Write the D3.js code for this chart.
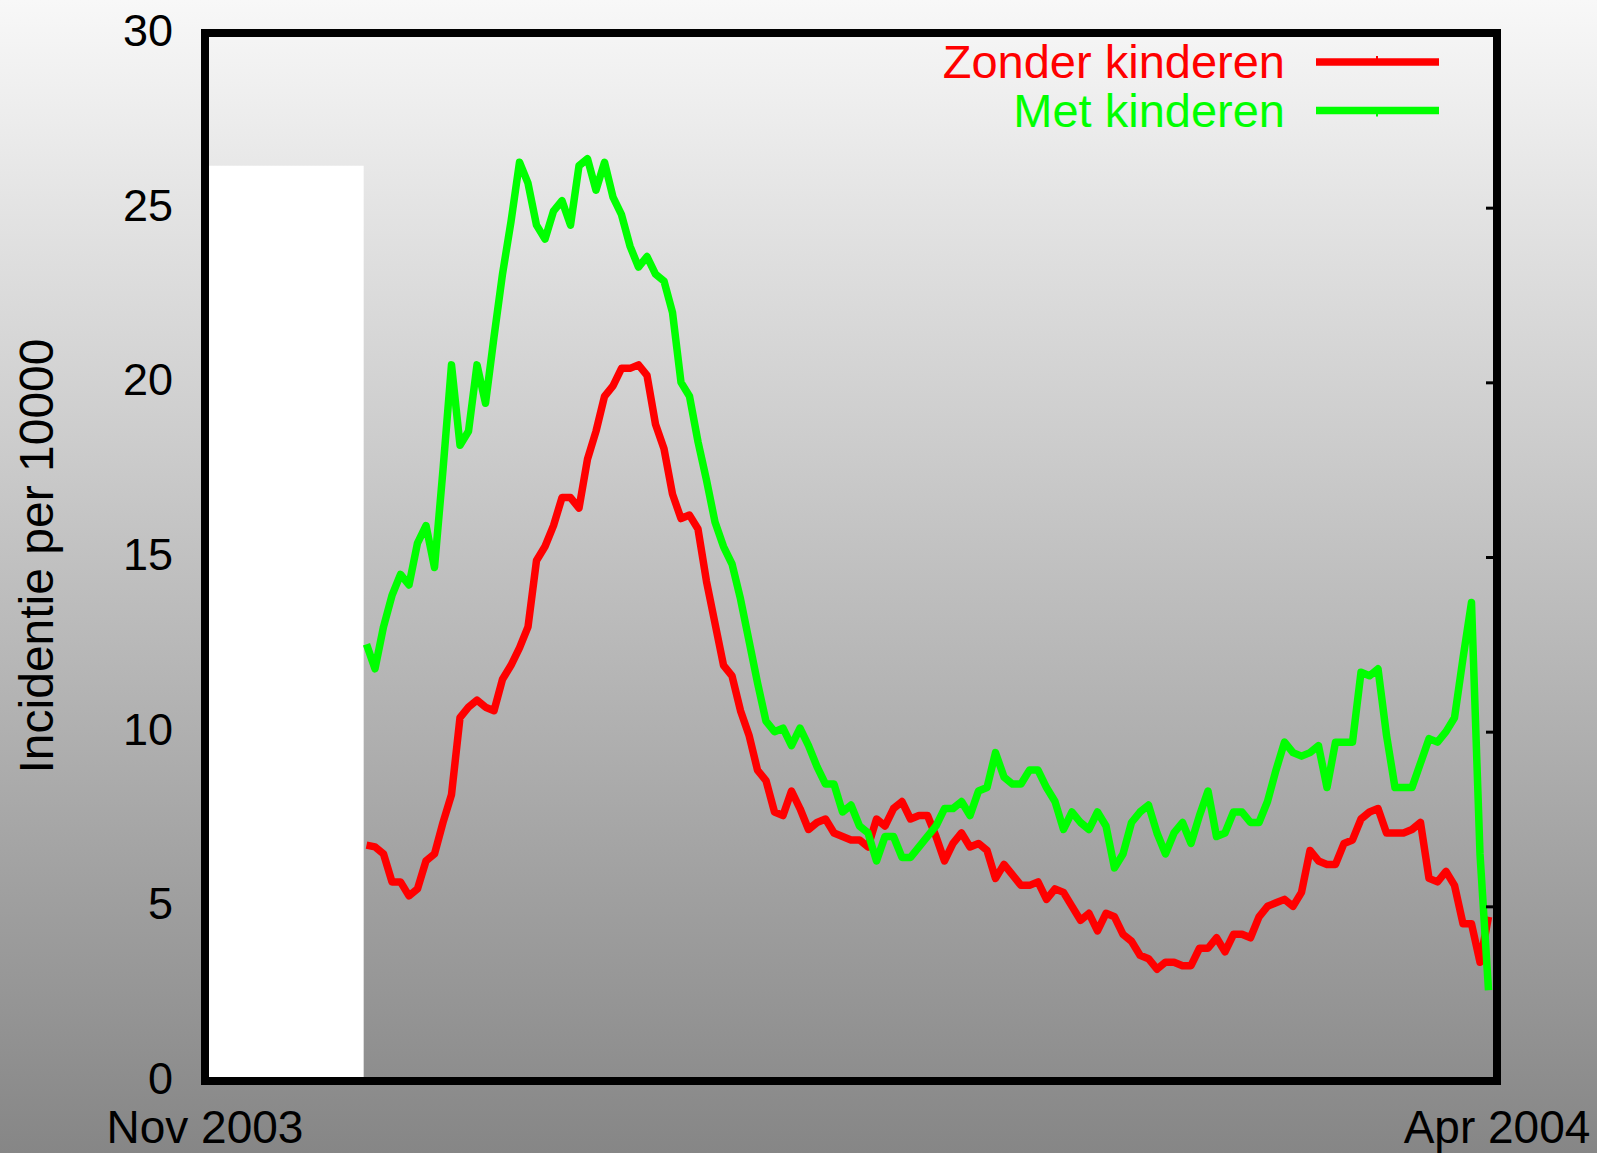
<!DOCTYPE html>
<html>
<head>
<meta charset="utf-8">
<script src="https://cdn.jsdelivr.net/npm/d3@7"></script>
<style>
  html, body { margin: 0; padding: 0; overflow: hidden; background: #888; }
  svg { display: block; }
  text { font-family: "Liberation Sans", Arial, Helvetica, sans-serif; }
</style>
</head>
<body>
<svg id="chart" width="1597" height="1153"></svg>
<script>
// Daily incidence per 10000, starting on firstDay
const firstDay = "2003-11-20";

const zonderKinderen = [
  6.75, 6.7, 6.5, 5.7, 5.7, 5.3, 5.5, 6.3, 6.5, 7.4,
  8.2, 10.4, 10.7, 10.9, 10.7, 10.6, 11.5, 11.9, 12.4, 13.0,
  14.9, 15.3, 15.9, 16.7, 16.7, 16.4, 17.8, 18.6, 19.6, 19.9,
  20.4, 20.4, 20.5, 20.2, 18.8, 18.1, 16.8, 16.1, 16.2, 15.8,
  14.3, 13.1, 11.9, 11.6, 10.6, 9.9, 8.9, 8.6, 7.7, 7.6,
  8.3, 7.8, 7.2, 7.4, 7.5, 7.1, 7.0, 6.9, 6.9, 6.7,
  7.5, 7.3, 7.8, 8.0, 7.5, 7.6, 7.6, 7.0, 6.3, 6.8,
  7.1, 6.7, 6.8, 6.6, 5.8, 6.2, 5.9, 5.6, 5.6, 5.7,
  5.2, 5.5, 5.4, 5.0, 4.6, 4.8, 4.3, 4.8, 4.7, 4.2,
  4.0, 3.6, 3.5, 3.2, 3.4, 3.4, 3.3, 3.3, 3.8, 3.8,
  4.1, 3.7, 4.2, 4.2, 4.1, 4.7, 5.0, 5.1, 5.2, 5.0,
  5.4, 6.6, 6.3, 6.2, 6.2, 6.8, 6.9, 7.5, 7.7, 7.8,
  7.1, 7.1, 7.1, 7.2, 7.4, 5.8, 5.7, 6.0, 5.6, 4.5,
  4.5, 3.4, 4.7
];

const metKinderen = [
  12.5, 11.8, 13.0, 13.9, 14.5, 14.2, 15.4, 15.9, 14.7, 17.5,
  20.5, 18.2, 18.6, 20.5, 19.4, 21.3, 23.1, 24.6, 26.3, 25.7,
  24.5, 24.1, 24.9, 25.2, 24.5, 26.2, 26.4, 25.5, 26.3, 25.3,
  24.8, 23.9, 23.3, 23.6, 23.1, 22.9, 22.0, 20.0, 19.6, 18.3,
  17.2, 16.0, 15.3, 14.8, 13.8, 12.6, 11.4, 10.3, 10.0, 10.1,
  9.6, 10.1, 9.6, 9.0, 8.5, 8.5, 7.7, 7.9, 7.3, 7.1,
  6.3, 7.0, 7.0, 6.4, 6.4, 6.7, 7.0, 7.3, 7.8, 7.8,
  8.0, 7.6, 8.3, 8.4, 9.4, 8.7, 8.5, 8.5, 8.9, 8.9,
  8.4, 8.0, 7.2, 7.7, 7.4, 7.2, 7.7, 7.3, 6.1, 6.5,
  7.4, 7.7, 7.9, 7.1, 6.5, 7.1, 7.4, 6.8, 7.6, 8.3,
  7.0, 7.1, 7.7, 7.7, 7.4, 7.4, 8.0, 8.9, 9.7, 9.4,
  9.3, 9.4, 9.6, 8.4, 9.7, 9.7, 9.7, 11.7, 11.6, 11.8,
  9.9, 8.4, 8.4, 8.4, 9.1, 9.8, 9.7, 10.0, 10.4, 12.1,
  13.7, 6.5, 2.6
];

const seriesNames = ["Zonder kinderen", "Met kinderen"];
const seriesColors = ["#ff0000", "#00ff00"];
const yTicks = [0, 5, 10, 15, 20, 25, 30];
const xTickDates = ["2003-11-01", "2004-04-01"];
const xTickLabels = ["Nov 2003", "Apr 2004"];
const yTitle = "Incidentie per 10000";

// Period without data, shown as a blank panel
const blankUntil = "2003-11-19T16:00";
const blankTop = 26.2;

const W = 1597, H = 1153;
const plot = { left: 205, right: 1497, top: 33, bottom: 1081 };

const parseDay = d3.utcParse("%Y-%m-%d");
const parseHour = d3.utcParse("%Y-%m-%dT%H:%M");
const start = parseDay(firstDay);

const x = d3.scaleUtc()
  .domain([parseDay(xTickDates[0]), parseDay(xTickDates[1])])
  .range([plot.left, plot.right]);
const y = d3.scaleLinear().domain([0, 30]).range([plot.bottom, plot.top]);

const svg = d3.select("#chart");
const defs = svg.append("defs");

const grad = defs.append("linearGradient")
  .attr("id", "bg").attr("gradientUnits", "userSpaceOnUse")
  .attr("x1", 0).attr("y1", 0).attr("x2", 0).attr("y2", H);
grad.append("stop").attr("offset", 0).attr("stop-color", "#f8f8f8");
grad.append("stop").attr("offset", 1).attr("stop-color", "#868686");

defs.append("clipPath").attr("id", "plotClip")
  .append("rect")
  .attr("x", plot.left + 4).attr("y", plot.top + 4)
  .attr("width", plot.right - plot.left - 8)
  .attr("height", plot.bottom - plot.top - 8);

svg.append("rect").attr("width", W).attr("height", H).attr("fill", "url(#bg)");

// Blank panel
svg.append("rect")
  .attr("x", plot.left + 2)
  .attr("y", y(blankTop))
  .attr("width", x(parseHour(blankUntil)) - plot.left - 2)
  .attr("height", plot.bottom - 4 - y(blankTop))
  .attr("fill", "#ffffff");

// Series
const series = [zonderKinderen, metKinderen].map((vals, i) => ({
  name: seriesNames[i],
  color: seriesColors[i],
  points: vals.map((v, j) => ({ date: d3.utcDay.offset(start, j), v }))
}));

const line = d3.line().x(d => x(d.date)).y(d => y(d.v));

svg.append("g").attr("clip-path", "url(#plotClip)")
  .selectAll("path").data(series).join("path")
  .attr("d", d => line(d.points))
  .attr("fill", "none")
  .attr("stroke", d => d.color)
  .attr("stroke-width", 7.5)
  .attr("stroke-linejoin", "round")
  .attr("stroke-linecap", "butt");

// Mirror ticks on the right edge
const rightAxis = svg.append("g")
  .attr("transform", `translate(${plot.right - 4},0)`)
  .call(d3.axisLeft(y).tickValues(yTicks.filter(t => t > 0 && t < 30)).tickSize(7).tickFormat(""));
rightAxis.select(".domain").remove();
rightAxis.selectAll("line").attr("stroke", "#000").attr("stroke-width", 3);

// Frame
svg.append("rect")
  .attr("x", plot.left).attr("y", plot.top)
  .attr("width", plot.right - plot.left).attr("height", plot.bottom - plot.top)
  .attr("fill", "none").attr("stroke", "#000").attr("stroke-width", 8);

// Y tick labels
const leftAxis = svg.append("g")
  .attr("transform", `translate(${plot.left},0)`)
  .call(d3.axisLeft(y).tickValues(yTicks).tickSize(0).tickPadding(32));
leftAxis.select(".domain").remove();
leftAxis.selectAll("text")
  .attr("font-family", "'Liberation Sans', Arial, sans-serif")
  .attr("font-size", 45).attr("fill", "#000").attr("dy", "0.28em");

// X labels
svg.append("g").selectAll("text").data(xTickDates).join("text")
  .attr("x", d => x(parseDay(d)))
  .attr("y", 1143)
  .attr("text-anchor", "middle")
  .attr("font-size", 46)
  .attr("fill", "#000")
  .text((d, i) => xTickLabels[i]);

// Y title
svg.append("text")
  .attr("transform", "translate(53,556) rotate(-90)")
  .attr("text-anchor", "middle")
  .attr("font-size", 48)
  .attr("fill", "#000")
  .text(yTitle);

// Legend
const legend = svg.append("g").selectAll("g").data(series).join("g")
  .attr("transform", (d, i) => `translate(0,${i * 48.5})`);
legend.append("text")
  .attr("x", 1285).attr("y", 78)
  .attr("text-anchor", "end")
  .attr("font-size", 47)
  .attr("fill", d => d.color)
  .text(d => d.name);
legend.append("line")
  .attr("x1", 1316).attr("x2", 1439)
  .attr("y1", 62).attr("y2", 62)
  .attr("stroke", d => d.color).attr("stroke-width", 7.5);
legend.append("line")
  .attr("x1", 1377).attr("x2", 1377)
  .attr("y1", (d, i) => i === 0 ? 56 : 62)
  .attr("y2", (d, i) => i === 0 ? 62 : 68)
  .attr("stroke", d => d.color).attr("stroke-width", 2);
</script>
</body>
</html>
